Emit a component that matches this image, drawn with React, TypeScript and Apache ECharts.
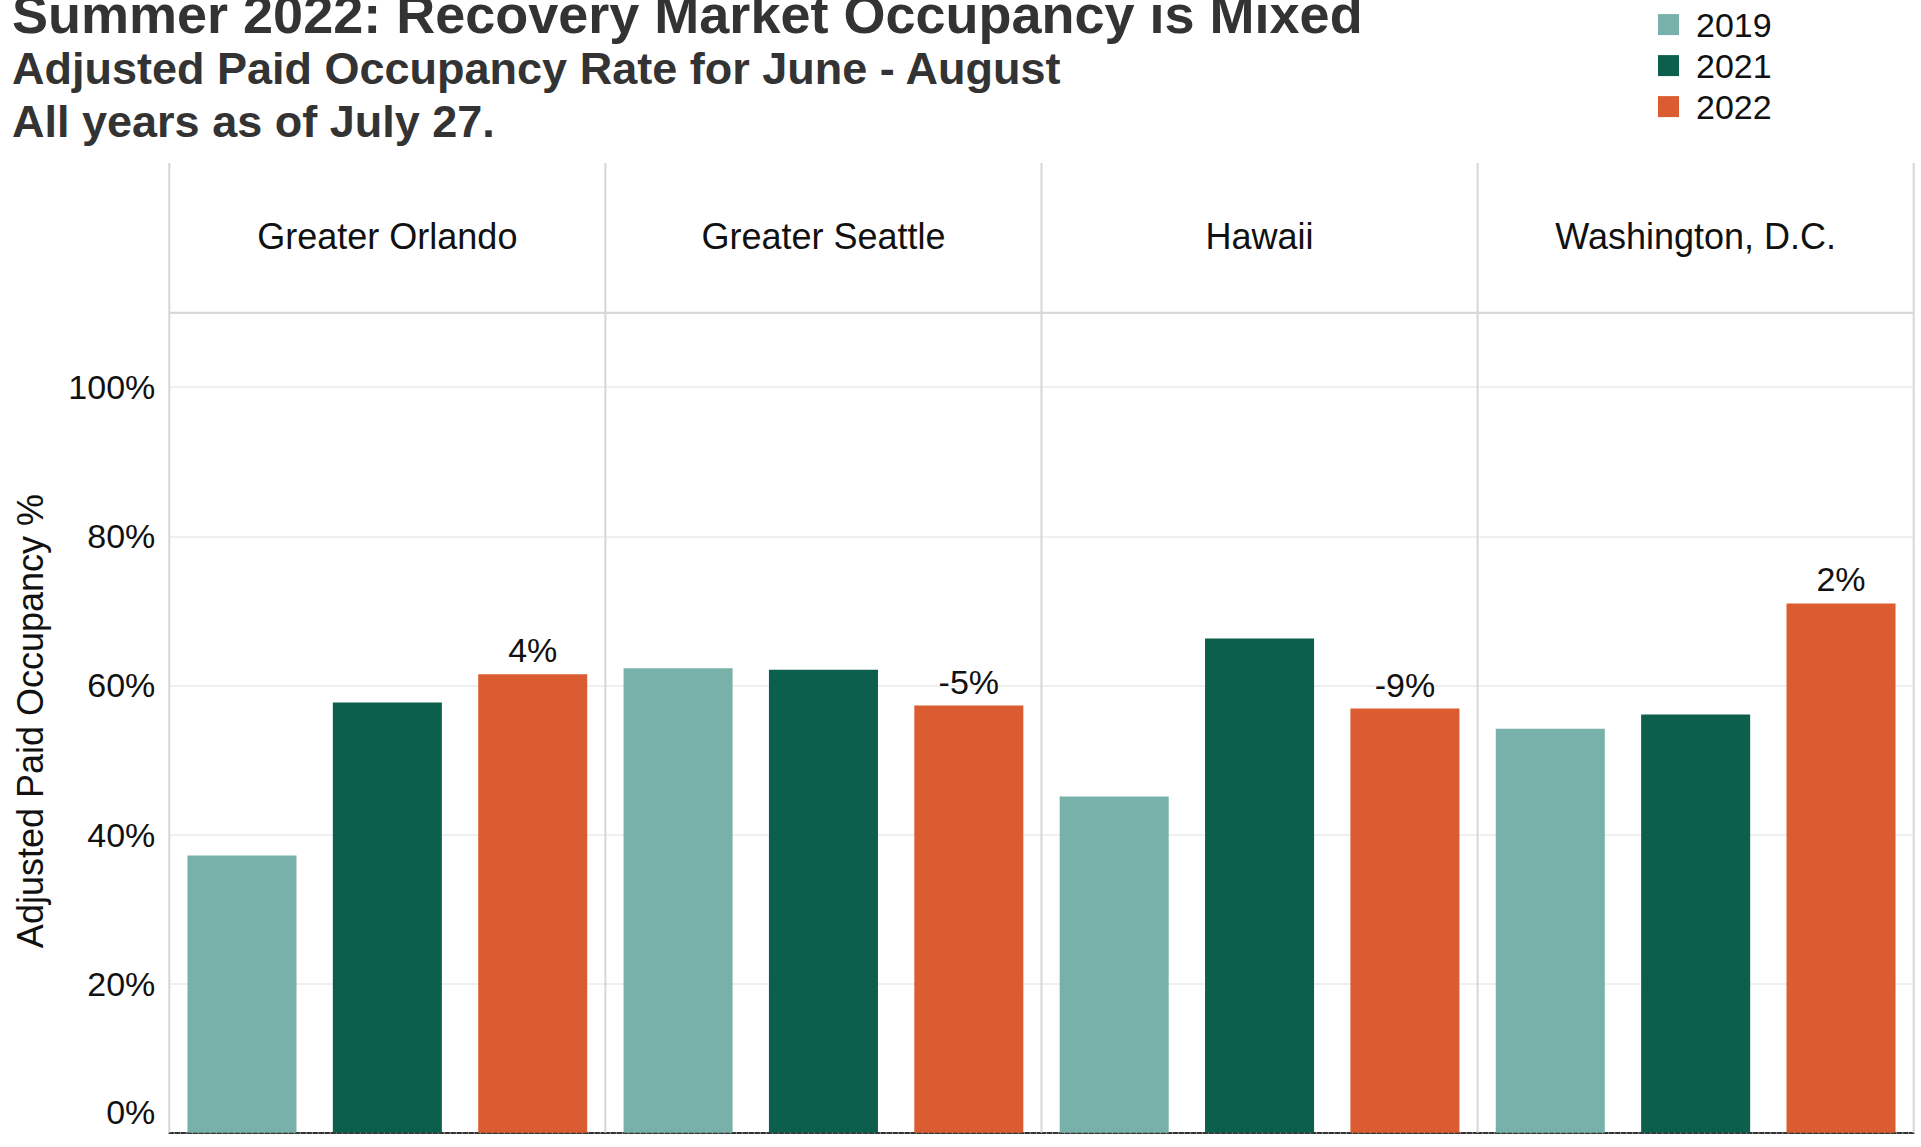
import React, { useEffect, useRef } from "react";
import * as echarts from "echarts";

const categories = ["Greater Orlando", "Greater Seattle", "Hawaii", "Washington, D.C."];
const years = ["2019", "2021", "2022"];
const values2019 = [37.2, 62.3, 45.1, 54.2];
const values2021 = [57.7, 62.1, 66.3, 56.1];
const values2022 = [61.5, 57.3, 56.9, 71.0];
const changeLabels = ["4%", "-5%", "-9%", "2%"];
const yearColors = ["#77b1a9", "#0c5e4d", "#db5c30"];

const titleText = "Summer 2022: Recovery Market Occupancy is Mixed";
const subtitleLines = ["Adjusted Paid Occupancy Rate for June - August", "All years as of July 27."];
const yAxisTitle = "Adjusted Paid Occupancy %";

const FONT = "'Liberation Sans', Arial, Helvetica, sans-serif";
const PLOT_LEFT = 169.3;
const PANEL_W = 436.1;
const PLOT_TOP = 312.7;
const PLOT_BOTTOM = 1132.7;
const HEADER_TOP = 163;
const W = 1921;
const H = 1147;

export default function App() {
  const ref = useRef<HTMLDivElement>(null);
  useEffect(() => {
    document.body.style.margin = "0";
    if (!ref.current) return;
    const chart = echarts.init(ref.current, null, { renderer: "svg" });
    const seriesValues = [values2019, values2021, values2022];

    const grids = categories.map((_, i) => ({
      left: PLOT_LEFT + i * PANEL_W,
      top: PLOT_TOP,
      width: PANEL_W,
      height: PLOT_BOTTOM - PLOT_TOP,
      containLabel: false,
    }));
    const xAxes = categories.map((_, i) => ({
      type: "category",
      gridIndex: i,
      data: years,
      boundaryGap: true,
      axisLabel: { show: false },
      axisTick: { show: false },
      axisLine: { show: true, lineStyle: { color: "#333", width: 2, type: [4, 2] } },
    }));
    const yAxes = categories.map((_, i) => ({
      type: "value",
      gridIndex: i,
      min: 0,
      max: 110,
      interval: 20,
      axisLine: { show: false },
      axisTick: { show: false },
      splitLine: { show: true, lineStyle: { color: "#efefef", width: 2 } },
      axisLabel: {
        show: i === 0,
        showMaxLabel: false,
        margin: 14,
        fontSize: 34,
        fontFamily: FONT,
        color: "#111",
        formatter: (v: number) => (v === 0 ? "{z|0%}" : v + "%"),
        rich: { z: { fontSize: 34, fontFamily: FONT, color: "#111", padding: [0, 0, 41, 0] } },
      },
    }));

    const series: any[] = [];
    years.forEach((yr, j) => {
      categories.forEach((_, i) => {
        const data = years.map((__, k) => (k === j ? seriesValues[j][i] : "-"));
        series.push({
          type: "bar",
          name: yr,
          xAxisIndex: i,
          yAxisIndex: i,
          data,
          barWidth: "75%",
          barGap: "-100%",
          itemStyle: { color: yearColors[j] },
          label:
            j === 2
              ? {
                  show: true,
                  position: "top",
                  distance: 7,
                  fontSize: 34,
                  fontFamily: FONT,
                  color: "#111",
                  formatter: () => changeLabels[i],
                }
              : { show: false },
        });
      });
    });

    const graphics: any[] = [];
    for (let i = 0; i <= categories.length; i++) {
      const x = PLOT_LEFT + i * PANEL_W;
      graphics.push({
        type: "line",
        shape: { x1: x, y1: HEADER_TOP, x2: x, y2: PLOT_BOTTOM },
        style: { stroke: "#d6d6d6", lineWidth: 2 },
        z: 10,
      });
    }
    graphics.push({
      type: "line",
      shape: { x1: PLOT_LEFT, y1: PLOT_TOP, x2: PLOT_LEFT + categories.length * PANEL_W, y2: PLOT_TOP },
      style: { stroke: "#d6d6d6", lineWidth: 2 },
      z: 10,
    });
    categories.forEach((c, i) => {
      graphics.push({
        type: "text",
        x: PLOT_LEFT + (i + 0.5) * PANEL_W,
        y: 236.5,
        style: {
          text: c,
          font: `36px ${FONT}`,
          fill: "#111",
          align: "center",
          verticalAlign: "middle",
        },
      });
    });
    graphics.push({
      type: "text",
      x: 12,
      y: 14,
      style: { text: titleText, font: `bold 54px ${FONT}`, fill: "#333", align: "left", verticalAlign: "middle" },
    });
    subtitleLines.forEach((t, k) => {
      graphics.push({
        type: "text",
        x: 12,
        y: 68.8 + k * 52.7,
        style: { text: t, font: `bold 45px ${FONT}`, fill: "#333", align: "left", verticalAlign: "middle" },
      });
    });
    graphics.push({
      type: "text",
      x: 30,
      y: 721,
      rotation: Math.PI / 2,
      style: { text: yAxisTitle, font: `36px ${FONT}`, fill: "#111", align: "center", verticalAlign: "middle" },
    });

    chart.setOption({
      animation: false,
      backgroundColor: "#ffffff",
      textStyle: { fontFamily: FONT },
      grid: grids,
      xAxis: xAxes,
      yAxis: yAxes,
      legend: {
        data: years,
        orient: "vertical",
        left: 1653,
        top: 2.6,
        icon: "rect",
        itemWidth: 21,
        itemHeight: 21,
        itemGap: 7,
        selectedMode: false,
        textStyle: { fontSize: 34, fontFamily: FONT, color: "#111", lineHeight: 34, padding: [0, 0, 0, 12] },
      },
      series,
      graphic: graphics,
    });
    return () => chart.dispose();
  }, []);
  return (
    <div
      ref={ref}
      style={{ position: "absolute", left: 0, top: 0, width: W + "px", height: H + "px", background: "#fff" }}
    />
  );
}
